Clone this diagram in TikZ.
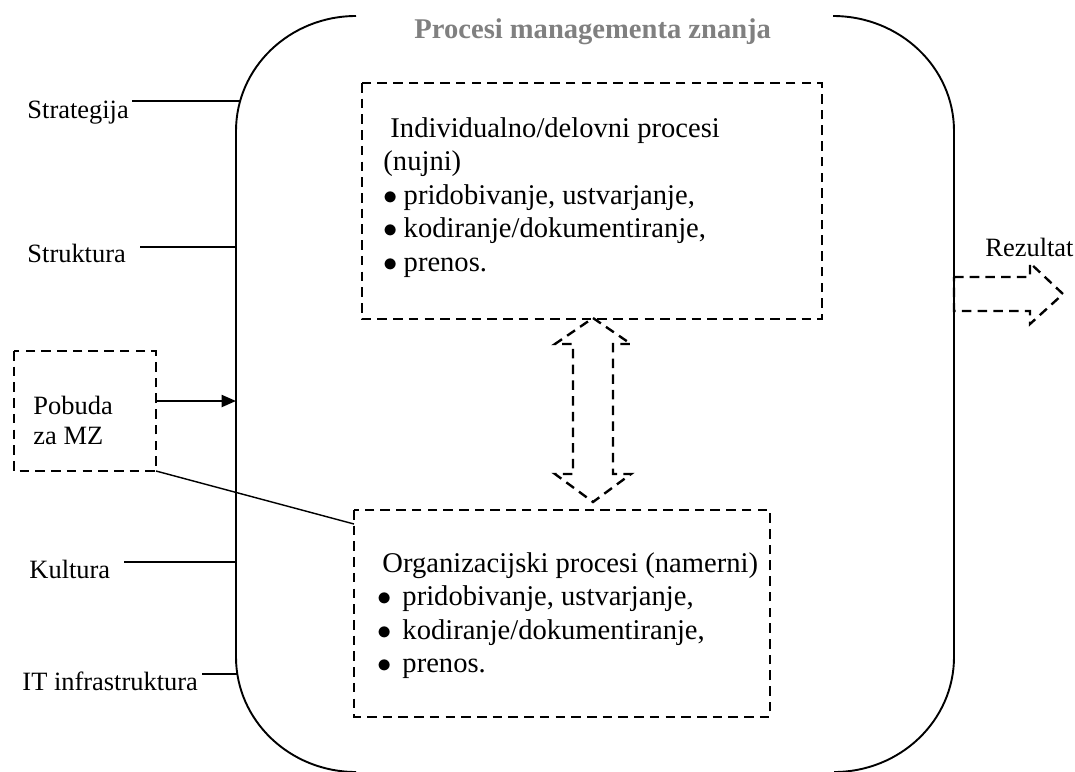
\documentclass[tikz,border=0pt]{standalone}
\usepackage{fontspec}
\setmainfont{Liberation Serif}
\usetikzlibrary{arrows.meta}
\definecolor{titlegray}{RGB}{128,128,128}
\newcommand{\pnt}[1][8.5pt]{\makebox[#1][l]{$\bullet$}}
\begin{document}
\begin{tikzpicture}[x=0.42pt,y=-0.42pt,
		frame/.style={line width=0.8pt},
		dashbox/.style={line width=1pt,dash pattern=on 4pt off 2.6pt},
		link/.style={line width=0.6pt},
		txt/.style={anchor=base west,inner sep=0pt,font=\fontsize{12}{13.8}\selectfont},
		label/.style={txt,font=\fontsize{11.1}{13}\selectfont},
		heading/.style={txt,font=\fontsize{12}{13.8}\selectfont\bfseries,text=titlegray}]
			\useasboundingbox (0,0) rectangle (1075,771);
			% frame of the process area
			\coordinate (TL) at (356,16);
			\coordinate (BL) at (236,657);
			\coordinate (TR) at (833,16);
			\coordinate (BR) at (954,657);
			\draw[frame] (TL) arc[start angle=270,end angle=180,x radius=120,y radius=115]
				-- (BL) arc[start angle=180,end angle=90,x radius=120,y radius=115];
			\draw[frame] (TR) arc[start angle=270,end angle=360,x radius=121,y radius=115]
				-- (BR) arc[start angle=0,end angle=90,x radius=120,y radius=115];
			\node[heading] (title) at (414,38) {Procesi managementa znanja};
			% boxes
			\coordinate (IndA) at (362,83);
			\coordinate (IndB) at (822,319);
			\coordinate (OrgA) at (354,510);
			\coordinate (OrgB) at (770,717);
			\coordinate (PobA) at (14,351);
			\coordinate (PobB) at (156,471);
			\draw[dashbox] (IndA) rectangle (IndB);
			\draw[dashbox] (OrgA) rectangle (OrgB);
			\draw[dashbox] (PobA) rectangle (PobB);
			\node[txt] (ind1) at (390,137) {Individualno/delovni procesi};
			\node[txt] (ind2) at (383,170) {(nujni)};
			\node[txt] (ind3) at (383,204) {\pnt pridobivanje, ustvarjanje,};
			\node[txt] (ind4) at (383,237) {\pnt kodiranje/dokumentiranje,};
			\node[txt] (ind5) at (383,271) {\pnt prenos.};
			\node[txt] (org1) at (382,572) {Organizacijski procesi (namerni)};
			\node[txt] (org2) at (377,605) {\pnt[7.5pt] pridobivanje, ustvarjanje,};
			\node[txt] (org3) at (377,639) {\pnt[7.5pt] kodiranje/dokumentiranje,};
			\node[txt] (org4) at (377,672) {\pnt[7.5pt] prenos.};
			\node[label] (pob1) at (33,414) {Pobuda};
			\node[label] (pob2) at (33,444) {za MZ};
			% factors on the left
			\node[label] (strat) at (27,118) {Strategija};
			\node[label] (strukt) at (27,262) {Struktura};
			\node[label] (kult) at (29,578) {Kultura};
			\node[label] (infra) at (22,690) {IT infrastruktura};
			\draw[link] (132,101) to (240,101);
			\draw[link] (140,247) to (236,247);
			\draw[link] (124,562) to (236,562);
			\draw[link] (202,674) to (237,674);
			% incentive
			\draw[line width=0.9pt,-{Triangle[length=6pt,width=5pt]}] (156,401) to (236,401);
			\draw[link] (PobB) to (354,524);
			% two-way arrow between the boxes
			\draw[dashbox] (593,318) -- (631,344) -- (613,344) -- (613,474) -- (631,474) -- (593,502)
				-- (555,474) -- (573,474) -- (573,344) -- (555,344) -- cycle;
			% result
			\draw[dashbox] (954,277) -- (1030,277) -- (1030,263) -- (1063,294) -- (1030,324)
				-- (1030,311) -- (954,311) -- cycle;
			\node[label] (rez) at (985,256) {Rezultat};
		\end{tikzpicture}
\end{document}
